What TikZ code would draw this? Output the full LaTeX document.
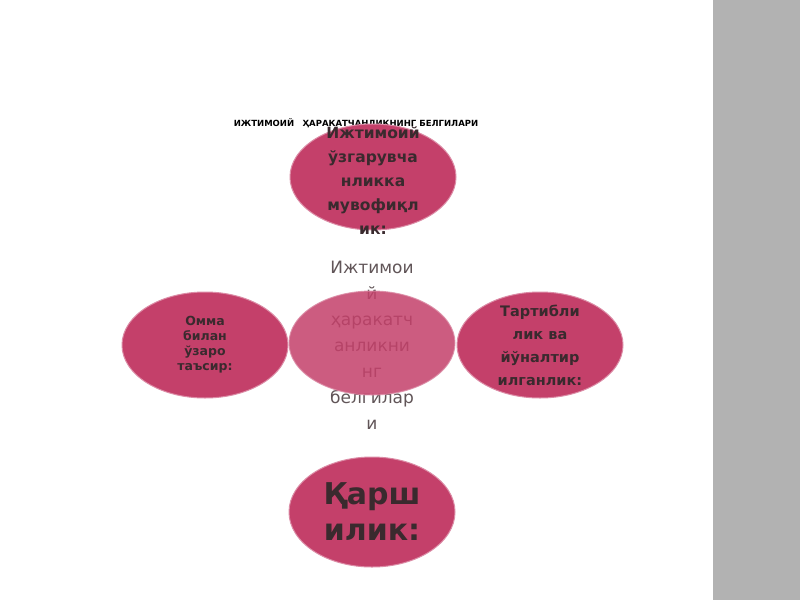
\documentclass[tikz,border=0pt]{standalone}
\usepackage{fontspec}
\setmainfont{DejaVu Sans}
\usetikzlibrary{shapes.geometric}
\begin{document}
\begin{tikzpicture}[x=1pt,y=-1pt,
  blob/.style={ellipse,fill=ell,draw=ell!60!white,line width=1pt,minimum width=166pt,minimum height=106pt},
  lbl/.style={align=center,text=txt}]
\definecolor{ell}{HTML}{C4406A}
\definecolor{txt}{HTML}{3A2A2E}
\useasboundingbox (0,0) rectangle (800,600);
\fill[white] (0,0) rectangle (800,600);
\fill[black!30] (713,0) rectangle (800,600);
\node[font=\bfseries\fontsize{8.5}{10}\selectfont] (title) at (356,123) {ИЖТИМОИЙ\quad ҲАРАКАТЧАНЛИКНИНГ БЕЛГИЛАРИ};
\node[lbl,font=\fontsize{17}{26}\selectfont,text=txt!80] (ct) at (372,345) {Ижтимои\\й\\ҳаракатч\\анликни\\нг\\белгилар\\и};
\node[blob,minimum height=104pt,opacity=0.85] (c) at (372,343) {};
\node[blob] (t) at (373,177) {};
\node[lbl,font=\bfseries\fontsize{15.5}{24}\selectfont] (tt) at (373,181) {Ижтимоий\\ўзгарувча\\нликка\\мувофиқл\\ик:};
\node[blob] (l) at (205,345) {};
\node[lbl,font=\bfseries\fontsize{12.5}{15}\selectfont] (lt) at (205,345) {Омма\\билан\\ўзаро\\таъсир:};
\node[blob] (r) at (540,345) {};
\node[lbl,font=\bfseries\fontsize{14.5}{23}\selectfont] (rt) at (540,345) {Тартибли\\лик ва\\йўналтир\\илганлик:};
\node[blob,minimum height=110pt] (b) at (372,512) {};
\node[lbl,font=\bfseries\fontsize{30}{36}\selectfont] (bt) at (372,512) {Қарш\\илик:};
\end{tikzpicture}
\end{document}
